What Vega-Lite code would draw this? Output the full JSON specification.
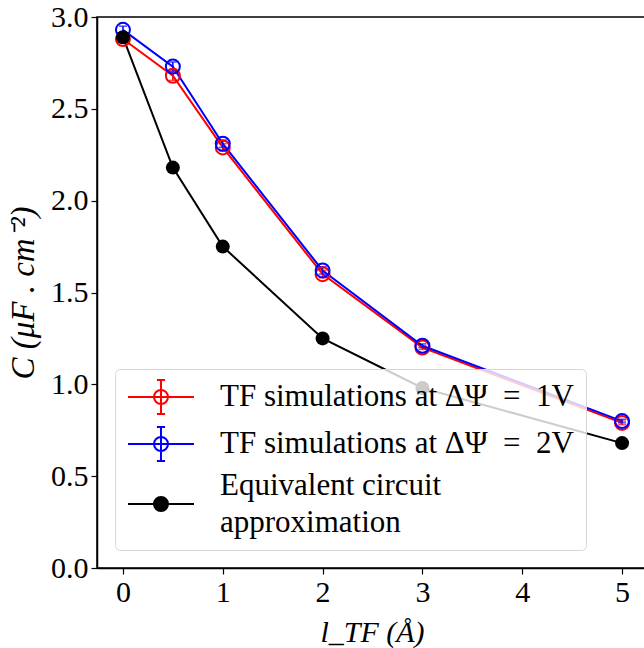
{
"$schema": "https://vega.github.io/schema/vega-lite/v6.json",
"width": 550,
"height": 551,
"autosize": "none",
"padding": {"left": 97, "top": 17, "right": 0, "bottom": 80},
"config": {
  "font": "Liberation Serif",
  "style": {"guide-label": {"font": "Liberation Serif"}, "guide-title": {"font": "Liberation Serif"}},
  "view": {"stroke": "black", "strokeWidth": 1.5},
  "axis": {"domainColor": "black", "domainWidth": 1.5, "tickColor": "black", "tickSize": 6, "tickWidth": 1.2,
           "labelFontSize": 30, "labelColor": "black", "labelFont": "Liberation Serif",
           "titleFontSize": 30, "titleFontWeight": "normal", "titleColor": "black", "titleFont": "Liberation Serif",
           "titleFontStyle": "italic", "grid": false, "labelPadding": 3},
  "legend": {"orient": "none", "legendX": 18, "legendY": 352, "fillColor": "rgba(255,255,255,0.8)",
             "strokeColor": "#d6d6d6", "cornerRadius": 5, "padding": 12, "labelFontSize": 31,
             "labelFont": "Liberation Serif", "labelColor": "black", "labelLimit": 0, "symbolSize": 900,
             "symbolOffset": 18, "labelOffset": 43, "rowPadding": 5, "symbolStrokeWidth": 2}
},
"data": {"values": [
  {"series": "TF simulations at ΔΨ = 1V", "x": 0, "y": 2.88, "err": 0.02},
  {"series": "TF simulations at ΔΨ = 1V", "x": 0.5, "y": 2.68, "err": 0.025},
  {"series": "TF simulations at ΔΨ = 1V", "x": 1, "y": 2.29, "err": 0.02},
  {"series": "TF simulations at ΔΨ = 1V", "x": 2, "y": 1.60, "err": 0.02},
  {"series": "TF simulations at ΔΨ = 1V", "x": 3, "y": 1.20, "err": 0.01},
  {"series": "TF simulations at ΔΨ = 1V", "x": 5, "y": 0.79, "err": 0.01},
  {"series": "TF simulations at ΔΨ = 2V", "x": 0, "y": 2.93, "err": 0.02},
  {"series": "TF simulations at ΔΨ = 2V", "x": 0.5, "y": 2.73, "err": 0.025},
  {"series": "TF simulations at ΔΨ = 2V", "x": 1, "y": 2.31, "err": 0.02},
  {"series": "TF simulations at ΔΨ = 2V", "x": 2, "y": 1.62, "err": 0.02},
  {"series": "TF simulations at ΔΨ = 2V", "x": 3, "y": 1.21, "err": 0.01},
  {"series": "TF simulations at ΔΨ = 2V", "x": 5, "y": 0.80, "err": 0.01},
  {"series": "Equivalent circuit approximation", "x": 0, "y": 2.89, "err": 0},
  {"series": "Equivalent circuit approximation", "x": 0.5, "y": 2.18, "err": 0},
  {"series": "Equivalent circuit approximation", "x": 1, "y": 1.75, "err": 0},
  {"series": "Equivalent circuit approximation", "x": 2, "y": 1.25, "err": 0},
  {"series": "Equivalent circuit approximation", "x": 3, "y": 0.98, "err": 0},
  {"series": "Equivalent circuit approximation", "x": 5, "y": 0.68, "err": 0}
]},
"encoding": {
  "x": {"field": "x", "type": "quantitative",
        "scale": {"domain": [-0.26, 5.25], "nice": false, "zero": false},
        "axis": {"values": [0, 1, 2, 3, 4, 5], "title": "l_TF (Å)", "titlePadding": 10, "format": "d",
                 "labelFont": "Liberation Serif", "titleFont": "Liberation Serif"}},
  "y": {"field": "y", "type": "quantitative",
        "scale": {"domain": [0, 3], "nice": false, "zero": false},
        "axis": {"values": [0, 0.5, 1, 1.5, 2, 2.5, 3], "format": ".1f", "title": "C (μF . cm⁻²)", "titlePadding": 10,
                 "labelFont": "Liberation Serif", "titleFont": "Liberation Serif", "titleFontSize": 33}},
  "color": {"field": "series", "type": "nominal",
            "scale": {"domain": ["TF simulations at ΔΨ = 1V", "TF simulations at ΔΨ = 2V", "Equivalent circuit approximation"],
                      "range": ["#ff0000", "#0000ff", "#000000"]},
            "legend": {"title": null,
                       "labelExpr": "datum.label === 'Equivalent circuit approximation' ? ['Equivalent circuit', 'approximation'] : replace(datum.label, ' = ', '\u2002=\u2002')",
                       "encode": {
                         "labels": {"update": {"lineHeight": {"value": 37},
                                               "dy": {"signal": "datum.value === 'Equivalent circuit approximation' ? -18 : 0"}}},
                         "symbols": {"update": {
                           "shape": {"signal": "datum.value === 'Equivalent circuit approximation' ? 'M-2.2,0H2.2M0.467,0A0.467,0.467 0 1,1 -0.467,0A0.467,0.467 0 1,1 0.467,0Z' : 'M-2.2,0H2.2M0,-1.133V1.133M-0.27,-1.133H0.27M-0.27,1.133H0.27M0.467,0A0.467,0.467 0 1,1 -0.467,0A0.467,0.467 0 1,1 0.467,0Z'"},
                           "fill": {"signal": "scale('color', datum.value)"},
                           "fillOpacity": {"signal": "datum.value === 'Equivalent circuit approximation' ? 1 : 0"},
                           "stroke": {"signal": "scale('color', datum.value)"},
                           "strokeWidth": {"value": 2},
                           "opacity": {"value": 1}
                         }}
                       }}}
},
"layer": [
  {"mark": {"type": "line", "strokeWidth": 2}},
  {"transform": [{"filter": "datum.err > 0"}],
   "mark": {"type": "errorbar", "ticks": true, "size": 8, "thickness": 1.5},
   "encoding": {"yError": {"field": "err"}}},
  {"transform": [{"filter": "datum.err > 0"}],
   "mark": {"type": "point", "shape": "circle", "filled": false, "size": 196, "strokeWidth": 2, "opacity": 1}},
  {"transform": [{"filter": "datum.err == 0"}],
   "mark": {"type": "point", "shape": "circle", "filled": true, "size": 196, "opacity": 1}}
]
}
